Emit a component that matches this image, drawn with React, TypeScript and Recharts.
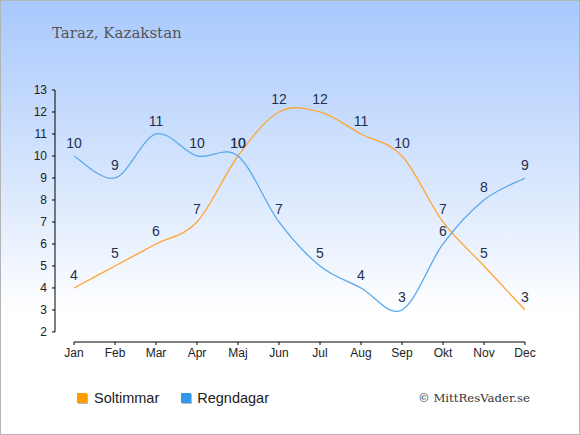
import { LineChart, Line, XAxis, YAxis, ReferenceLine, LabelList } from 'recharts';

const months = ['Jan', 'Feb', 'Mar', 'Apr', 'Maj', 'Jun', 'Jul', 'Aug', 'Sep', 'Okt', 'Nov', 'Dec'];
const soltimmar = [4, 5, 6, 7, 10, 12, 12, 11, 10, 7, 5, 3];
const regndagar = [10, 9, 11, 10, 10, 7, 5, 4, 3, 6, 8, 9];
const yTicks = [2, 3, 4, 5, 6, 7, 8, 9, 10, 11, 12, 13];

const ORANGE = '#ffa533';
const BLUE = '#5aa9ec';

const data = months.map((m, i) => ({ idx: i, month: m, sol: soltimmar[i], regn: regndagar[i] }));

// cardinal spline, same shape as the original's soft overshoot
const cardinal = (context: any) => {
  let pts: [number, number][] = [];
  return {
    areaStart() {},
    areaEnd() {},
    lineStart() {
      pts = [];
    },
    lineEnd() {
      if (!pts.length) return;
      context.moveTo(pts[0][0], pts[0][1]);
      for (let i = 0; i < pts.length - 1; i++) {
        const p0 = pts[Math.max(i - 1, 0)];
        const p1 = pts[i];
        const p2 = pts[i + 1];
        const p3 = pts[Math.min(i + 2, pts.length - 1)];
        context.bezierCurveTo(
          p1[0] + (p2[0] - p0[0]) / 6,
          p1[1] + (p2[1] - p0[1]) / 6,
          p2[0] - (p3[0] - p1[0]) / 6,
          p2[1] - (p3[1] - p1[1]) / 6,
          p2[0],
          p2[1]
        );
      }
    },
    point(x: number, y: number) {
      pts.push([+x, +y]);
    },
  };
};

const sans = '"Liberation Sans", Arial, sans-serif';
const serif = '"DejaVu Serif", Georgia, serif';

const renderLabel = (props: any) => {
  const { x, y, value, index } = props;
  return (
    <text key={`l-${index}`} x={x} y={y - 8} textAnchor="middle" fill="#1f3050" fontSize={14} fontFamily={sans}>
      {value}
    </text>
  );
};

// x axis starts a bit right of the y axis, like the original
const xMin = -19 / 41;
const yMin = 2 - 10 / 21.9;

export default function App() {
  return (
    <div
      style={{
        position: 'absolute',
        left: 0,
        top: 0,
        width: 578,
        height: 433,
        border: '1px solid #b4b4b4',
        background: 'linear-gradient(to bottom, #a8c9fd 0%, #dce9fd 45%, #ffffff 72%, #ffffff 100%)',
      }}
    >
      <div style={{ position: 'absolute', left: 51, top: 23, fontFamily: serif, fontSize: 15, color: '#555' }}>
        Taraz, Kazakstan
      </div>
      <LineChart width={578} height={433} data={data} margin={{ top: 89, right: 54, bottom: 62, left: 0 }}>
        <XAxis
          dataKey="idx"
          type="number"
          domain={[xMin, 11]}
          ticks={months.map((_, i) => i)}
          tickFormatter={(v: number) => months[v]}
          axisLine={false}
          tickSize={3}
          tickMargin={3}
          tickLine={{ stroke: '#000' }}
          tick={{ fontSize: 12, fill: '#222', fontFamily: sans }}
          height={30}
          allowDataOverflow
        />
        <YAxis
          type="number"
          domain={[yMin, 13]}
          ticks={yTicks}
          axisLine={false}
          width={54}
          tickSize={3}
          tickMargin={5}
          tickLine={{ stroke: '#000' }}
          tick={{ fontSize: 12, fill: '#222', fontFamily: sans }}
          allowDataOverflow
        />
        <ReferenceLine
          segment={[{ x: xMin, y: 2 }, { x: xMin, y: 13 }]}
          stroke="#000"
          strokeWidth={1}
          ifOverflow="visible"
        />
        <ReferenceLine
          segment={[{ x: 0, y: yMin }, { x: 11, y: yMin }]}
          stroke="#000"
          strokeWidth={1}
          ifOverflow="visible"
        />
        <Line
          dataKey="sol"
          type={cardinal as any}
          stroke={ORANGE}
          strokeWidth={1.3}
          dot={false}
          activeDot={false}
          isAnimationActive={false}
        >
          <LabelList dataKey="sol" content={renderLabel} />
        </Line>
        <Line
          dataKey="regn"
          type={cardinal as any}
          stroke={BLUE}
          strokeWidth={1.3}
          dot={false}
          activeDot={false}
          isAnimationActive={false}
        >
          <LabelList dataKey="regn" content={renderLabel} />
        </Line>
      </LineChart>
      {/* legend */}
      <div style={{ position: 'absolute', left: 76, top: 389, display: 'flex', alignItems: 'center', fontFamily: sans, fontSize: 14.5, color: '#222' }}>
        <span style={{ width: 10, height: 10, background: '#ff9c00', boxShadow: '1px 1px 0 #bbb', marginRight: 7 }} />
        <span>Soltimmar</span>
        <span style={{ width: 10, height: 10, background: '#3396ea', boxShadow: '1px 1px 0 #bbb', marginLeft: 22, marginRight: 6 }} />
        <span>Regndagar</span>
      </div>
      <div style={{ position: 'absolute', left: 417, top: 390, fontFamily: serif, fontSize: 11.7, color: '#333' }}>
        © MittResVader.se
      </div>
    </div>
  );
}
